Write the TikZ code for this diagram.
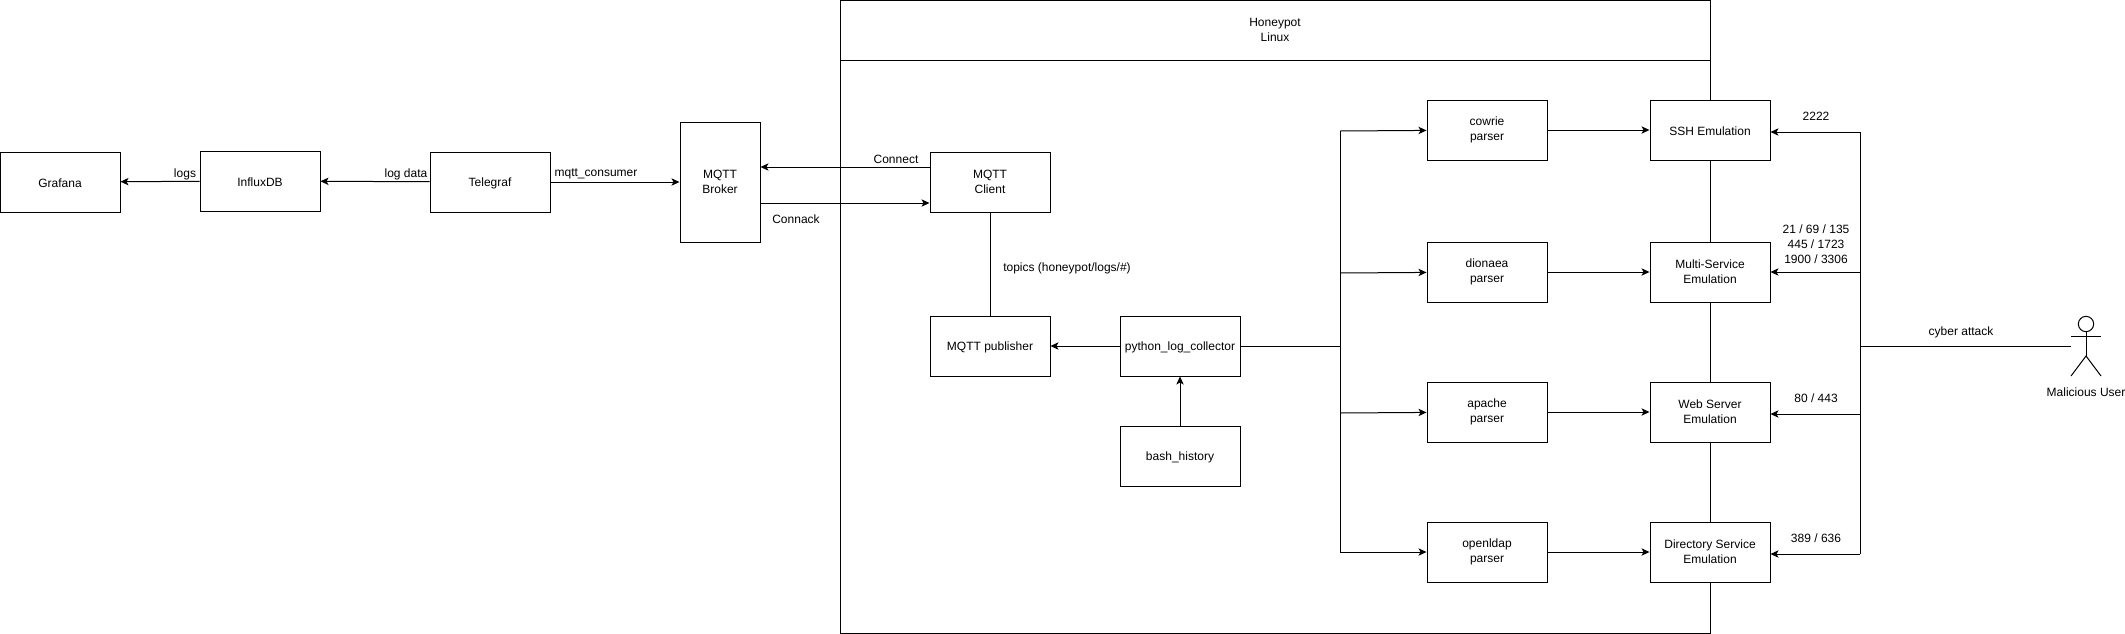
\documentclass[tikz,border=0pt]{standalone}
\usepackage{fontspec}
\setmainfont{Liberation Sans}
\usetikzlibrary{arrows.meta}
\tikzset{
  box/.style={draw, fill=white, minimum width=90pt, minimum height=45pt, inner sep=1pt, align=center, execute at begin node={\rule{0pt}{8.6pt}}},
  lbl/.style={inner sep=0pt, align=center, yshift=-0.75pt},
  flow/.style={-{Stealth[length=6pt,width=5.5pt,inset=1.5pt]}},
  every node/.append style={font=\fontsize{9pt}{11.25pt}\selectfont}
}

\begin{document}
\begin{tikzpicture}[x=0.75pt,y=-0.75pt,line width=0.75pt]
    \useasboundingbox (0,0) rectangle (2125,633);

    % Honeypot container
    \node[draw, minimum width=652.5pt, minimum height=474.75pt, inner sep=0pt] (honeypot) at (1275,316.5) {};
    \node[box, minimum width=652.5pt, inner sep=0pt, fill=none] (honeytitle) at (1275,30) {Honeypot\\Linux};

    % Left chain
    \node[box] (grafana) at (60,182) {Grafana};
    \node[box] (influx) at (260,181) {InfluxDB};
    \node[box] (telegraf) at (490,182) {Telegraf};
    \node[box, minimum width=60pt, minimum height=90pt] (broker) at (720,182) {MQTT\\Broker};
    \node[box] (client) at (990,182) {MQTT\\Client};
    \node[box] (publisher) at (990,346) {MQTT publisher};
    \node[box] (collector) at (1180,346) {python\_log\_collector};
    \node[box] (bash) at (1180,456) {bash\_history};

    % Parsers
    \node[box] (cowrie) at (1487,130) {cowrie\\parser};
    \node[box] (dionaea) at (1487,272) {dionaea\\parser};
    \node[box] (apache) at (1487,412) {apache\\parser};
    \node[box] (openldap) at (1487,552) {openldap\\parser};

    % Emulations
    \node[box] (ssh) at (1710,130) {SSH Emulation};
    \node[box] (multi) at (1710,272) {Multi-Service\\Emulation};
    \node[box] (web) at (1710,412) {Web Server\\Emulation};
    \node[box] (directory) at (1710,552) {Directory Service\\Emulation};

    % Bus ends
    \coordinate (logbus) at (1340,346);
    \coordinate (logtop) at (1340,131);
    \coordinate (logbot) at (1340,552);
    \coordinate (portbus) at (1860,346);
    \coordinate (porttop) at (1860,132);
    \coordinate (portbot) at (1860,554);

    % Actor
    \node[draw, circle, minimum size=11.5pt, inner sep=0pt] (head) at (2086,324) {};
    \coordinate (armleft) at (2071,336);
    \coordinate (armright) at (2101,336);
    \coordinate (hip) at (2086,356);
    \coordinate (footleft) at (2071,376);
    \coordinate (footright) at (2101,376);
    \coordinate (actorwest) at (2071,346);
    \draw (head.south) -- (hip);
    \draw (armleft) -- (armright);
    \draw (footleft) -- (hip) -- (footright);

    % Left connectors
    \draw[flow] (influx) -- (grafana);
    \draw[flow] (telegraf) -- (influx);
    \draw[flow] (telegraf) -- (broker);
    \draw[flow] (client.west |- 0,167) -- (broker.east |- 0,167);
    \draw[flow] (broker.east |- 0,203) -- (client.west |- 0,203);
    \draw (client) -- (publisher);
    \draw[flow] (collector) -- (publisher);
    \draw[flow] (bash) -- (collector);

    % Log bus
    \draw (collector) -- (logbus);
    \draw (logtop) -- (logbot);
    \draw[flow] (logtop) -- (cowrie);
    \draw[flow] (logbus |- 0,273) -- (dionaea);
    \draw[flow] (logbus |- 0,413) -- (apache);
    \draw[flow] (logbot) -- (openldap);

    % Parser to emulation
    \draw[flow] (cowrie) -- (ssh);
    \draw[flow] (dionaea) -- (multi);
    \draw[flow] (apache) -- (web);
    \draw[flow] (openldap) -- (directory);

    % Port bus
    \draw (porttop) -- (portbot);
    \draw (actorwest) -- (portbus);
    \draw[flow] (porttop) -- (ssh.east |- porttop);
    \draw[flow] (portbus |- 0,272) -- (multi.east |- 0,272);
    \draw[flow] (portbus |- 0,414) -- (web.east |- 0,414);
    \draw[flow] (portbot) -- (directory.east |- portbot);

    % Labels
    \node[lbl] (logslbl) at (185,173) {logs};
    \node[lbl] (logdatalbl) at (406,173) {log data};
    \node[lbl] (consumerlbl) at (596,173) {mqtt\_consumer};
    \node[lbl] (connectlbl) at (896,158) {Connect};
    \node[lbl] (connacklbl) at (796,218) {Connack};
    \node[lbl] (topicslbl) at (1067,267) {topics (honeypot/logs/\#)};
    \node[lbl] (sshport) at (1816,115.5) {2222};
    \node[lbl] (multiport) at (1816,243) {21 / 69 / 135\\445 / 1723\\1900 / 3306};
    \node[lbl] (webport) at (1816,397) {80 / 443};
    \node[lbl] (dirport) at (1816,537) {389 / 636};
    \node[lbl] (attacklbl) at (1961,331.5) {cyber attack};
    \node[lbl] (actorlbl) at (2086,391) {Malicious User};
\end{tikzpicture}
\end{document}
